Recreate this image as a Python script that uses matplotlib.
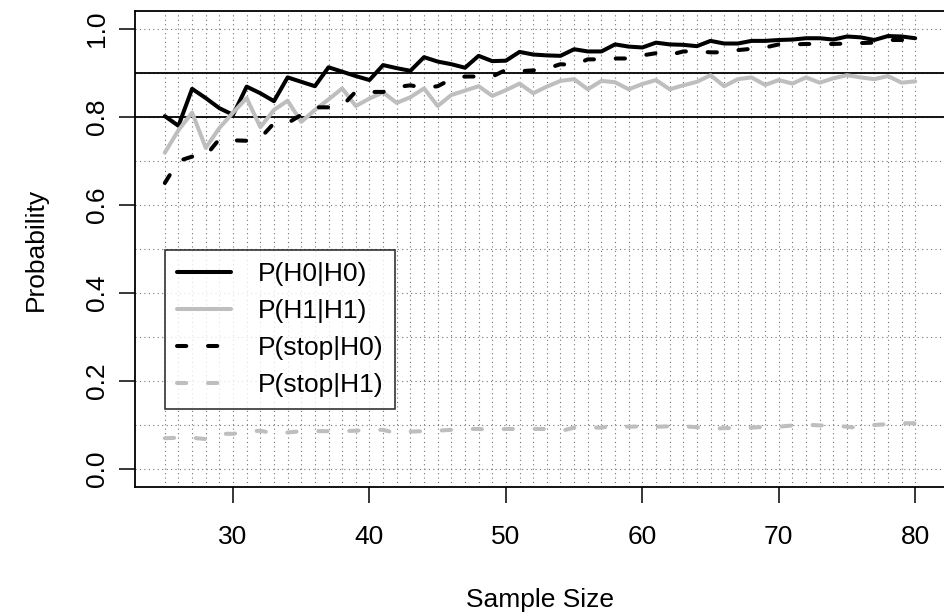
import numpy as np
import matplotlib
matplotlib.use('Agg')
import matplotlib.pyplot as plt

plt.rcParams['font.family'] = ['Liberation Sans', 'DejaVu Sans']

# sample sizes and probabilities
sample_size = np.arange(25, 81)

p_h0_h0 = [0.802, 0.780, 0.864, 0.843, 0.820, 0.805, 0.869, 0.854, 0.836, 0.890,
           0.880, 0.870, 0.913, 0.903, 0.893, 0.884, 0.918, 0.911, 0.905, 0.936,
           0.926, 0.920, 0.912, 0.939, 0.927, 0.928, 0.948, 0.942, 0.940, 0.939,
           0.954, 0.949, 0.949, 0.965, 0.960, 0.958, 0.969, 0.965, 0.964, 0.961,
           0.973, 0.967, 0.967, 0.973, 0.973, 0.975, 0.976, 0.979, 0.979, 0.976,
           0.983, 0.981, 0.975, 0.984, 0.983, 0.979]

p_h1_h1 = [0.719, 0.770, 0.810, 0.730, 0.775, 0.810, 0.843, 0.777, 0.816, 0.837,
           0.789, 0.816, 0.840, 0.865, 0.825, 0.842, 0.856, 0.832, 0.845, 0.865,
           0.825, 0.850, 0.860, 0.870, 0.848, 0.861, 0.876, 0.854, 0.869, 0.882,
           0.886, 0.863, 0.882, 0.879, 0.863, 0.875, 0.884, 0.863, 0.872, 0.880,
           0.895, 0.870, 0.886, 0.890, 0.873, 0.884, 0.876, 0.890, 0.878, 0.888,
           0.895, 0.890, 0.886, 0.893, 0.878, 0.881]

p_stop_h0 = [0.650, 0.700, 0.710, 0.712, 0.750, 0.747, 0.746, 0.752, 0.786, 0.786,
             0.805, 0.822, 0.822, 0.825, 0.858, 0.857, 0.857, 0.868, 0.872, 0.866,
             0.870, 0.886, 0.892, 0.892, 0.892, 0.907, 0.904, 0.906, 0.910, 0.920,
             0.918, 0.931, 0.931, 0.933, 0.933, 0.940, 0.945, 0.941, 0.949, 0.949,
             0.947, 0.947, 0.952, 0.955, 0.958, 0.965, 0.965, 0.966, 0.966, 0.966,
             0.967, 0.968, 0.969, 0.975, 0.975, 0.975]

p_stop_h1 = [0.070, 0.071, 0.071, 0.068, 0.080, 0.080, 0.085, 0.087, 0.081, 0.083,
             0.086, 0.086, 0.086, 0.086, 0.087, 0.089, 0.089, 0.081, 0.085, 0.086,
             0.087, 0.089, 0.091, 0.091, 0.089, 0.091, 0.091, 0.091, 0.091, 0.086,
             0.094, 0.094, 0.094, 0.099, 0.096, 0.097, 0.096, 0.097, 0.097, 0.095,
             0.091, 0.093, 0.093, 0.094, 0.096, 0.096, 0.099, 0.101, 0.099, 0.099,
             0.096, 0.093, 0.100, 0.102, 0.104, 0.104]

ref_levels = [0.8, 0.9]
y_ticks = [0.0, 0.2, 0.4, 0.6, 0.8, 1.0]
x_ticks = [30, 40, 50, 60, 70, 80]

fs = 19
lw = 2.9
dash = (0, (2.3, 5.4))

fig = plt.figure(figsize=(9.44, 6.13), dpi=100)
ax = fig.add_axes([0.1428, 0.2062, 0.8585, 0.7752])
ax.set_xlim(22.8, 82.2)
ax.set_ylim(-0.04, 1.04)

# dotted grid at every sample size and every 0.1
for x in sample_size:
    ax.axvline(x, color='0.45', lw=0.8, ls=(0, (1, 3)), zorder=1)
for y in np.arange(0, 11) / 10:
    ax.axhline(y, color='0.45', lw=0.8, ls=(0, (1, 3)), zorder=1)
for y in ref_levels:
    ax.axhline(y, color='black', lw=1.3, zorder=2)

ax.plot(sample_size, p_h0_h0, color='black', lw=lw, solid_capstyle='round',
        solid_joinstyle='round', label='P(H0|H0)', zorder=3)
ax.plot(sample_size, p_h1_h1, color='#BEBEBE', lw=lw, solid_capstyle='round',
        solid_joinstyle='round', label='P(H1|H1)', zorder=3)
ax.plot(sample_size, p_stop_h0, color='black', lw=lw, ls=dash, dash_capstyle='round',
        label='P(stop|H0)', zorder=3)
ax.plot(sample_size, p_stop_h1, color='#BEBEBE', lw=lw, ls=dash, dash_capstyle='round',
        label='P(stop|H1)', zorder=3)

for s in ['top', 'right', 'bottom', 'left']:
    ax.spines[s].set_linewidth(1.3)

ax.set_xticks(x_ticks)
ax.set_xticklabels([str(t) for t in x_ticks], fontsize=fs)
ax.set_yticks(y_ticks)
ax.set_yticklabels(['%.1f' % t for t in y_ticks], fontsize=fs, rotation=90, va='center')
ax.tick_params(axis='both', length=11.5, width=1.1, direction='out')
ax.tick_params(axis='x', pad=16)
ax.tick_params(axis='y', pad=7)

ax.set_xlabel('Sample Size', fontsize=fs, labelpad=28)
ax.set_ylabel('Probability', fontsize=fs, labelpad=27)

leg = ax.legend(loc='upper left', bbox_to_anchor=(0.0373, 0.498), borderaxespad=0,
                fontsize=fs, frameon=True, fancybox=False, handlelength=2.05,
                handletextpad=1.0, labelspacing=0.5, borderpad=0.45)
leg.get_frame().set_edgecolor('black')
leg.get_frame().set_linewidth(1.2)
leg.set_zorder(5)

fig.savefig('out.png', dpi=100)
